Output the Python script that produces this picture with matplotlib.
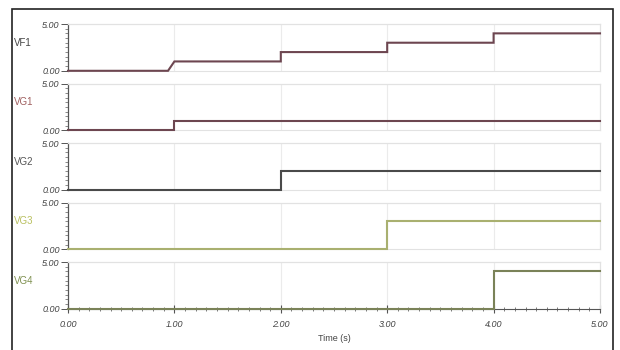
import matplotlib
matplotlib.use("Agg")
import matplotlib.pyplot as plt
from matplotlib.ticker import MultipleLocator, FixedLocator
from matplotlib.patches import Rectangle

# ---- data ----
names = ["VF1", "VG1", "VG2", "VG3", "VG4"]
vf1_time = [0.0, 0.94, 1.0, 2.0, 2.0, 3.0, 3.0, 4.0, 4.0, 5.0]
vf1_vals = [0.0, 0.0, 1.0, 1.0, 2.0, 2.0, 3.0, 3.0, 4.0, 4.0]
vg1_time = [0.0, 1.0, 1.0, 5.0]
vg1_vals = [0.0, 0.0, 1.0, 1.0]
vg2_time = [0.0, 2.0, 2.0, 5.0]
vg2_vals = [0.0, 0.0, 2.0, 2.0]
vg3_time = [0.0, 3.0, 3.0, 5.0]
vg3_vals = [0.0, 0.0, 3.0, 3.0]
vg4_time = [0.0, 4.0, 4.0, 5.0]
vg4_vals = [0.0, 0.0, 4.0, 4.0]
x_ticks = [0, 1, 2, 3, 4, 5]
x_tick_labels = ["0.00", "1.00", "2.00", "3.00", "4.00", "5.00"]
y_ticks = [0, 5]
y_tick_labels = ["0.00", "5.00"]
x_label = "Time (s)"

series = [(vf1_time, vf1_vals), (vg1_time, vg1_vals), (vg2_time, vg2_vals),
          (vg3_time, vg3_vals), (vg4_time, vg4_vals)]
line_colors = ["#6d4650", "#6d4650", "#4a4a4a", "#a9b070", "#7a8258"]
label_colors = ["#444444", "#a06060", "#555555", "#b9c060", "#7f9050"]

W, H = 620, 350
fig = plt.figure(figsize=(W / 100, H / 100), dpi=100)
fig.patch.set_facecolor("white")

# outer frame
fig.add_artist(Rectangle((12 / W, -0.05), (613 - 12) / W, 1.05 - 9 / H,
                         transform=fig.transFigure, fill=False,
                         edgecolor="#222222", linewidth=1.2))

x0, x1 = 68, 600
tickfont = dict(family="Liberation Sans", style="italic", size=6.5)

for i, (name, (t, v)) in enumerate(zip(names, series)):
    top = 24 + i * 59.5
    h = 46.8
    ax = fig.add_axes([x0 / W, 1 - (top + h) / H, (x1 - x0) / W, h / H])
    ax.set_xlim(0, 5)
    ax.set_ylim(0, 5)
    ax.plot(t, v, color=line_colors[i], linewidth=1.5, clip_on=False,
            solid_joinstyle="miter", zorder=3)
    for g in [1, 2, 3, 4]:
        ax.axvline(g, color="#ebebeb", linewidth=0.8, zorder=1)
    for s in ["top", "right"]:
        ax.spines[s].set_color("#e2e2e2")
        ax.spines[s].set_linewidth(0.9)
    ax.spines["left"].set_color("#555555")
    ax.spines["left"].set_linewidth(0.9)
    ax.yaxis.set_major_locator(FixedLocator(y_ticks))
    ax.set_yticklabels(y_tick_labels, fontdict=tickfont, color="#444444")
    ax.yaxis.set_minor_locator(MultipleLocator(0.5))
    ax.tick_params(axis="y", which="major", length=5, width=0.7,
                   color="#555555", pad=1)
    ax.tick_params(axis="y", which="minor", length=2, width=0.6,
                   color="#777777")
    if i < 4:
        ax.spines["bottom"].set_color("#e2e2e2")
        ax.set_xticks([])
    else:
        ax.spines["bottom"].set_color("#555555")
        ax.set_xticks(x_ticks)
        ax.set_xticklabels(x_tick_labels, fontdict=tickfont, color="#444444")
        ax.xaxis.set_minor_locator(MultipleLocator(0.1))
        ax.tick_params(axis="x", which="major", length=6, width=0.8,
                       direction="inout", color="#555555", pad=5)
        ax.tick_params(axis="x", which="minor", length=3, width=0.6,
                       direction="inout", color="#666666")
        ax.set_xlabel(x_label, fontsize=6.5, family="Liberation Sans",
                      color="#444444", labelpad=4)
    fig.text(14 / W, 1 - (top + h * 0.4) / H, name, fontsize=7,
             family="Liberation Sans", color=label_colors[i],
             ha="left", va="center")

fig.savefig("out.png", dpi=100, facecolor="white")
